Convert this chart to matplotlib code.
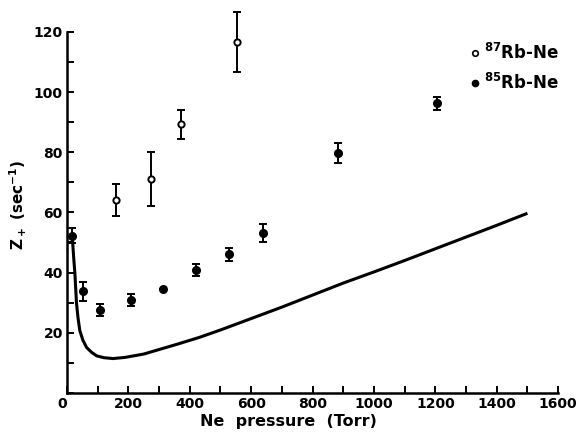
import matplotlib
matplotlib.use("Agg")
import matplotlib.pyplot as plt
from matplotlib.lines import Line2D
from matplotlib.ticker import MultipleLocator

# 87Rb-Ne (open circles)
p87 = [160, 273, 371, 553]
z87 = [64.0, 71.0, 89.3, 116.6]
e87 = [5.3, 9.0, 4.8, 10.0]

# 85Rb-Ne (filled circles)
p85 = [17, 53, 107, 208, 314, 419, 528, 638, 882, 1204]
z85 = [52.3, 33.7, 27.5, 30.8, 34.6, 40.9, 46.1, 53.3, 79.8, 96.2]
e85 = [2.5, 3.0, 2.1, 2.0, 0.0, 2.1, 2.1, 3.0, 3.3, 2.0]

# theory curve
curve_p = [18, 22, 26, 31, 36, 42, 52, 64, 80, 97, 120, 150, 190, 250, 300,
           360, 430, 500, 600, 700, 800, 900, 1000, 1100, 1200, 1300, 1400, 1500]
curve_z = [51.0, 45.0, 39.6, 30.0, 25.0, 20.7, 17.5, 15.1, 13.5, 12.3, 11.7, 11.4,
           11.8, 12.9, 14.4, 16.2, 18.4, 20.9, 24.7, 28.5, 32.5, 36.5, 40.2, 44.0,
           47.9, 51.8, 55.7, 59.7]

legend_labels = [r'$^{87}$Rb-Ne', r'$^{85}$Rb-Ne']

plt.rcParams['font.family'] = 'DejaVu Sans'
plt.rcParams['font.weight'] = 'bold'

fig = plt.figure(figsize=(5.82, 4.37), dpi=100)
ax = fig.add_axes([0.115, 0.101, 0.844, 0.826])

ax.plot(curve_p, curve_z, color='black', lw=2.2, solid_capstyle='butt')

ax.errorbar(p87, z87, yerr=e87, fmt='o', color='black', mfc='white', mec='black',
            mew=1.4, ms=4.5, elinewidth=1.4, capsize=3, capthick=1.4,
            clip_on=False, zorder=3)
ax.errorbar(p85, z85, yerr=e85, fmt='o', color='black', ms=5.5, elinewidth=1.4,
            capsize=3, capthick=1.4, clip_on=False, zorder=3)

ax.set_xlim(0, 1600)
ax.set_ylim(0, 120)
ax.spines['top'].set_visible(False)
ax.spines['right'].set_visible(False)
ax.spines['left'].set_linewidth(1.8)
ax.spines['bottom'].set_linewidth(1.8)

ax.xaxis.set_minor_locator(MultipleLocator(100))
ax.yaxis.set_minor_locator(MultipleLocator(10))
ax.tick_params(which='both', direction='in', length=5, width=1.4, labelsize=10)
ax.tick_params(axis='x', pad=3)
ax.tick_params(axis='y', pad=3)

ax.set_yticks([20, 40, 60, 80, 100, 120])
ax.set_xticks(range(0, 1601, 200))
lbl0 = ax.get_xticklabels()[0]
lbl0.set_horizontalalignment('right')

ax.set_xlabel('Ne  pressure  (Torr)', fontsize=11.5, fontweight='bold')
ax.xaxis.set_label_coords(0.45, -0.058)
ax.set_ylabel(r'Z$_+$ (sec$^{-1}$)', fontsize=11, fontweight='bold')
ax.yaxis.set_label_coords(-0.078, 0.52)

handles = [Line2D([], [], ls='none', marker='o', ms=4, mfc='white', mec='black', mew=1.2),
           Line2D([], [], ls='none', marker='o', ms=4.5, color='black')]
ax.legend(handles, legend_labels, loc='upper left', bbox_to_anchor=(0.81, 0.988),
          frameon=False, fontsize=12, handlelength=0.4, handletextpad=0.35,
          labelspacing=0.6, borderaxespad=0)

fig.savefig('out.png', dpi=100)
